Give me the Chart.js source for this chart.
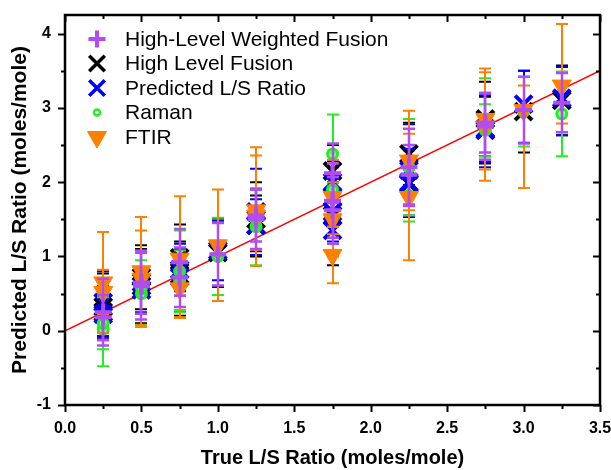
<!DOCTYPE html>
<html>
<head>
<meta charset="utf-8">
<script src="https://cdn.jsdelivr.net/npm/chart.js@4/dist/chart.umd.min.js"></script>
<style>
  html, body { margin: 0; padding: 0; background: #fff; }
</style>
</head>
<body>
<canvas id="chart" width="611" height="470"></canvas>
<script>
// axis ticks
var xTicks = [0, 0.5, 1, 1.5, 2, 2.5, 3, 3.5];
var yTicks = [-1, 0, 1, 2, 3, 4];

// 1:1 reference line
var lineX = [0, 3.5];
var lineY = [0, 3.5];

// High-Level Weighted Fusion
var hlwfX  = [0.25, 0.25, 0.5, 0.5, 0.75, 0.75, 1.0, 1.25, 1.25, 1.75, 1.75, 1.75, 2.25, 2.25, 2.75, 2.75, 3.0, 3.25];
var hlwfY  = [0.25, 0.18, 0.65, 0.60, 0.92, 0.72, 1.03, 1.50, 1.55, 2.12, 1.62, 1.75, 2.10, 2.20, 2.80, 2.75, 2.97, 3.07];
var hlwfLo = [-0.20, -0.12, 0.23, 0.15, 0.47, 0.32, 0.61, 1.10, 1.20, 1.72, 1.17, 1.25, 1.70, 1.68, 2.40, 2.30, 2.52, 2.67];
var hlwfHi = [0.70, 0.48, 1.07, 1.05, 1.37, 1.12, 1.45, 1.90, 1.90, 2.52, 2.07, 2.25, 2.50, 2.72, 3.20, 3.20, 3.42, 3.47];

// High Level Fusion
var hlfX  = [0.25, 0.25, 0.5, 0.5, 0.75, 0.75, 1.0, 1.25, 1.25, 1.75, 1.75, 1.75, 2.25, 2.25, 2.75, 2.75, 3.0, 3.25];
var hlfY  = [0.32, 0.25, 0.72, 0.60, 0.98, 0.75, 1.05, 1.50, 1.42, 2.15, 1.80, 1.55, 2.38, 1.98, 2.85, 2.70, 2.95, 3.10];
var hlfLo = [-0.13, -0.10, 0.29, 0.10, 0.53, 0.20, 0.59, 1.00, 1.02, 1.80, 1.40, 0.88, 1.96, 1.53, 2.35, 2.25, 2.40, 2.63];
var hlfHi = [0.77, 0.60, 1.15, 1.10, 1.43, 1.20, 1.51, 2.00, 1.82, 2.50, 2.20, 2.00, 2.80, 2.43, 3.35, 3.15, 3.50, 3.57];

// Predicted L/S Ratio
var predX  = [0.25, 0.25, 0.5, 0.5, 0.75, 0.75, 1.0, 1.25, 1.25, 1.75, 1.75, 1.75, 2.25, 2.25, 2.75, 2.75, 3.0, 3.25];
var predY  = [0.38, 0.22, 0.55, 0.65, 0.72, 0.82, 1.08, 1.60, 1.42, 2.00, 1.60, 1.35, 2.16, 2.00, 2.70, 2.72, 3.05, 3.13];
var predLo = [-0.07, -0.08, 0.05, 0.25, 0.27, 0.47, 0.68, 1.02, 1.07, 1.72, 1.20, 1.05, 1.54, 1.55, 2.20, 2.27, 2.53, 2.63];
var predHi = [0.80, 0.52, 1.05, 1.05, 1.17, 1.10, 1.48, 2.18, 1.77, 2.28, 2.00, 1.65, 2.78, 2.45, 3.20, 3.17, 3.50, 3.55];

// Raman
var ramanX  = [0.25, 0.25, 0.5, 0.5, 0.75, 0.75, 1.0, 1.25, 1.25, 1.75, 1.75, 2.25, 2.25, 2.75, 2.75, 3.0, 3.25];
var ramanY  = [0.02, 0.10, 0.50, 0.58, 0.80, 0.68, 1.00, 1.40, 1.50, 2.38, 1.90, 2.20, 1.82, 2.85, 2.70, 2.95, 2.92];
var ramanLo = [-0.48, -0.25, 0.05, 0.08, 0.25, 0.28, 0.48, 0.88, 1.10, 1.85, 1.40, 1.55, 1.47, 2.30, 2.35, 2.48, 2.35];
var ramanHi = [0.52, 0.45, 0.95, 1.08, 1.35, 1.08, 1.52, 1.92, 1.90, 2.91, 2.40, 2.85, 2.17, 3.40, 3.05, 3.42, 3.49];

// FTIR
var ftirX  = [0.25, 0.25, 0.5, 0.5, 0.75, 0.75, 1.0, 1.25, 1.25, 1.75, 1.75, 1.75, 2.25, 2.25, 2.75, 2.75, 3.0, 3.25];
var ftirY  = [0.65, 0.52, 0.80, 0.70, 0.97, 0.57, 1.15, 1.62, 1.55, 1.80, 1.50, 1.02, 2.29, 1.80, 2.85, 2.75, 2.97, 3.30];
var ftirLo = [-0.03, 0.22, 0.07, 0.05, 0.18, 0.17, 0.40, 0.87, 1.09, 1.30, 1.00, 0.64, 1.62, 0.95, 2.17, 2.02, 1.92, 2.79];
var ftirHi = [1.33, 0.82, 1.53, 1.35, 1.81, 0.97, 1.90, 2.47, 2.36, 2.30, 2.00, 1.40, 2.96, 2.65, 3.53, 3.48, 3.30, 4.13];

var FONT = "'Liberation Sans', Arial, sans-serif";

function pts(xs, ys) {
  return xs.map(function (x, i) { return { x: x, y: ys[i] }; });
}

// error bars drawn just under each dataset's own markers
var errorBars = {
  id: 'errorBars',
  beforeDatasetDraw: function (chart, args) {
    var ds = chart.data.datasets[args.index];
    if (!ds.errLo) return;
    var ctx = chart.ctx, sx = chart.scales.x, sy = chart.scales.y;
    var cap = 6;
    ctx.save();
    ctx.strokeStyle = ds.errColor;
    ctx.lineWidth = ds.errWidth;
    ds.data.forEach(function (p, i) {
      var px = Math.round(sx.getPixelForValue(p.x));
      var lo = sy.getPixelForValue(ds.errLo[i]);
      var hi = sy.getPixelForValue(ds.errHi[i]);
      ctx.beginPath();
      ctx.moveTo(px, lo); ctx.lineTo(px, hi);
      ctx.moveTo(px - cap, lo); ctx.lineTo(px + cap, lo);
      ctx.moveTo(px - cap, hi); ctx.lineTo(px + cap, hi);
      ctx.stroke();
    });
    ctx.restore();
  }
};

function drawMarker(ctx, ds, x, y) {
  var r = ds.pointRadius, c = ds.pointBorderColor;
  ctx.save();
  ctx.strokeStyle = c;
  ctx.fillStyle = ds.pointBackgroundColor;
  ctx.lineWidth = ds.pointBorderWidth;
  ctx.beginPath();
  if (ds.pointStyle === 'cross') {
    ctx.moveTo(x - r, y); ctx.lineTo(x + r, y);
    ctx.moveTo(x, y - r); ctx.lineTo(x, y + r);
    ctx.stroke();
  } else if (ds.pointStyle === 'crossRot') {
    var d = r * Math.SQRT1_2;
    ctx.moveTo(x - d, y - d); ctx.lineTo(x + d, y + d);
    ctx.moveTo(x - d, y + d); ctx.lineTo(x + d, y - d);
    ctx.stroke();
  } else if (ds.pointStyle === 'circle') {
    ctx.arc(x, y, r, 0, Math.PI * 2);
    ctx.fill(); ctx.stroke();
  } else if (ds.pointStyle === 'triangle') {
    var a = Math.PI;
    for (var k = 0; k < 3; k++) {
      var ax = x + Math.sin(a) * r, ay = y - Math.cos(a) * r;
      if (k === 0) ctx.moveTo(ax, ay); else ctx.lineTo(ax, ay);
      a += Math.PI * 2 / 3;
    }
    ctx.closePath();
    ctx.fill(); ctx.stroke();
  }
  ctx.restore();
}

// frame, mirrored ticks and the legend box
var frame = {
  id: 'frame',
  afterDraw: function (chart) {
    var ctx = chart.ctx, a = chart.chartArea, sx = chart.scales.x, sy = chart.scales.y;
    ctx.save();
    ctx.strokeStyle = '#000';
    ctx.lineWidth = 2;
    var v, p, big;
    for (v = 0; v <= 3.5001; v += 0.25) {
      p = Math.round(sx.getPixelForValue(v)) + 0.5;
      big = Math.abs(v / 0.5 - Math.round(v / 0.5)) < 1e-6;
      ctx.beginPath();
      ctx.moveTo(p, a.bottom); ctx.lineTo(p, a.bottom + (big ? 7 : 4));
      ctx.moveTo(p, a.top); ctx.lineTo(p, a.top + (big ? 7 : 4));
      ctx.stroke();
    }
    for (v = -1; v <= 4.0001; v += 0.5) {
      p = Math.round(sy.getPixelForValue(v)) + 0.5;
      big = Math.abs(v - Math.round(v)) < 1e-6;
      ctx.beginPath();
      ctx.moveTo(a.left, p); ctx.lineTo(a.left - (big ? 7 : 4), p);
      ctx.moveTo(a.right, p); ctx.lineTo(a.right - (big ? 7 : 4), p);
      ctx.stroke();
    }
    ctx.lineWidth = 2.5;
    ctx.strokeRect(a.left, a.top, a.right - a.left, a.bottom - a.top);
    ctx.restore();

    // legend
    var rowY = 39;
    ctx.save();
    ctx.font = '21px ' + FONT;
    ctx.fillStyle = '#000';
    ctx.textBaseline = 'middle';
    chart.data.datasets.forEach(function (ds) {
      if (!ds.errLo) return;
      drawMarker(ctx, ds.legendMarker || ds, 97, rowY);
      ctx.fillText(ds.label, 125, rowY + 1);
      rowY += 24.5;
    });
    ctx.restore();
  }
};

new Chart(document.getElementById('chart'), {
  type: 'scatter',
  data: {
    datasets: [
      {
        label: 'High-Level Weighted Fusion',
        data: pts(hlwfX, hlwfY), errLo: hlwfLo, errHi: hlwfHi,
        errColor: '#b04cf2', errWidth: 2.5,
        pointStyle: 'cross', pointRadius: 8.5, pointBorderWidth: 4,
        pointBorderColor: '#b04cf2', pointBackgroundColor: '#b04cf2',
        order: 0
      },
      {
        label: 'High Level Fusion',
        data: pts(hlfX, hlfY), errLo: hlfLo, errHi: hlfHi,
        errColor: '#000000', errWidth: 2,
        pointStyle: 'crossRot', pointRadius: 12, pointBorderWidth: 4,
        pointBorderColor: '#000000', pointBackgroundColor: '#000000',
        legendMarker: { pointStyle: 'crossRot', pointRadius: 11, pointBorderWidth: 3.5, pointBorderColor: '#000000' },
        order: 4
      },
      {
        label: 'Predicted L/S Ratio',
        data: pts(predX, predY), errLo: predLo, errHi: predHi,
        errColor: '#0000ff', errWidth: 2,
        pointStyle: 'crossRot', pointRadius: 12, pointBorderWidth: 4,
        pointBorderColor: '#0000ff', pointBackgroundColor: '#0000ff',
        legendMarker: { pointStyle: 'crossRot', pointRadius: 11, pointBorderWidth: 3.5, pointBorderColor: '#0000ff' },
        order: 3
      },
      {
        label: 'Raman',
        data: pts(ramanX, ramanY), errLo: ramanLo, errHi: ramanHi,
        errColor: '#22ee22', errWidth: 2,
        pointStyle: 'circle', pointRadius: 5, pointBorderWidth: 3,
        pointBorderColor: '#22ee22', pointBackgroundColor: 'rgba(120,245,120,0.8)',
        legendMarker: { pointStyle: 'circle', pointRadius: 3, pointBorderWidth: 2.5, pointBorderColor: '#22ee22', pointBackgroundColor: '#ffffff' },
        order: 2
      },
      {
        label: 'FTIR',
        data: pts(ftirX, ftirY), errLo: ftirLo, errHi: ftirHi,
        errColor: '#ff8000', errWidth: 2,
        pointStyle: 'triangle', pointRotation: 180, pointRadius: 11, pointBorderWidth: 1,
        pointBorderColor: '#ff8000', pointBackgroundColor: '#ff8000',
        order: 1
      },
      {
        type: 'line',
        label: 'fit',
        data: pts(lineX, lineY),
        borderColor: '#ff0000', borderWidth: 1.5,
        pointRadius: 0, showLine: true, fill: false,
        order: 5
      }
    ]
  },
  options: {
    responsive: false,
    animation: false,
    events: [],
    layout: { padding: { top: 15, right: 11, left: 0, bottom: 0 }, autoPadding: false },
    plugins: { legend: { display: false }, tooltip: { enabled: false } },
    scales: {
      x: {
        type: 'linear', min: 0, max: 3.5,
        afterBuildTicks: function (s) { s.ticks = xTicks.map(function (v) { return { value: v }; }); },
        afterFit: function (s) { s.height = 65; s.paddingLeft = 0; s.paddingRight = 0; },
        grid: { display: false, drawTicks: false },
        border: { display: false },
        ticks: {
          color: '#000', padding: 14, maxRotation: 0, autoSkip: false,
          font: { family: FONT, size: 16, weight: 'bold' },
          callback: function (v) { return v.toFixed(1); }
        },
        title: {
          display: true, text: 'True L/S Ratio (moles/mole)', color: '#000',
          font: { family: FONT, size: 20, weight: 'bold' }, padding: 0
        }
      },
      y: {
        type: 'linear', min: -1, max: 4.25,
        afterBuildTicks: function (s) { s.ticks = yTicks.map(function (v) { return { value: v }; }); },
        afterFit: function (s) { s.width = 65; s.paddingTop = 0; s.paddingBottom = 0; },
        grid: { display: false, drawTicks: false },
        border: { display: false },
        ticks: {
          color: '#000', padding: 14, autoSkip: false,
          font: { family: FONT, size: 16, weight: 'bold' }
        },
        title: {
          display: true, text: 'Predicted L/S Ratio (moles/mole)', color: '#000',
          font: { family: FONT, size: 21, weight: 'bold' }, padding: { top: 8, bottom: 0 }
        }
      }
    }
  },
  plugins: [errorBars, frame]
});
</script>
</body>
</html>
